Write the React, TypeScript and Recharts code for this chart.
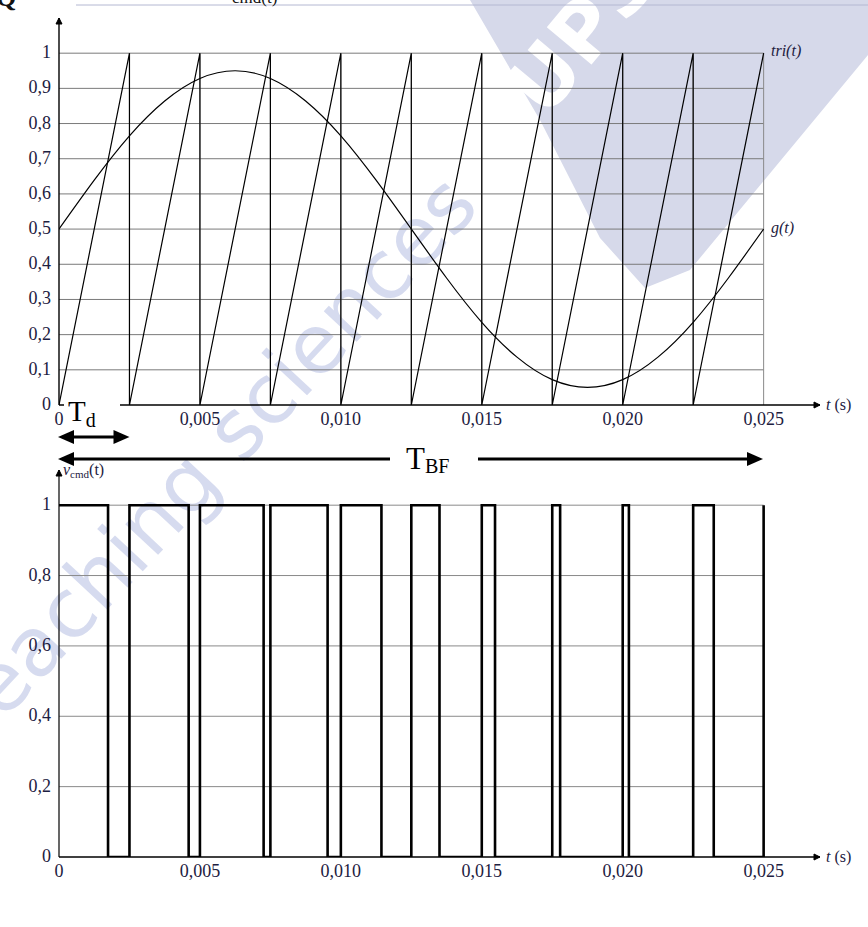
import { LineChart, Line, XAxis, YAxis, ReferenceLine, ReferenceDot } from "recharts"

// time axis, seconds
const xTicks = [0, 0.005, 0.01, 0.015, 0.02, 0.025]
const topYTicks = [0, 0.1, 0.2, 0.3, 0.4, 0.5, 0.6, 0.7, 0.8, 0.9, 1]
const bottomYTicks = [0, 0.2, 0.4, 0.6, 0.8, 1]

// sawtooth tri(t): ramps 0 -> 1 between these instants
const triEdges = [0, 0.0025, 0.005, 0.0075, 0.01, 0.0125, 0.015, 0.0175, 0.02, 0.0225, 0.025]

// g(t)
const gTimes = [
  0, 0.00125, 0.0025, 0.00375, 0.005, 0.00625, 0.0075, 0.00875, 0.01, 0.01125, 0.0125,
  0.01375, 0.015, 0.01625, 0.0175, 0.01875, 0.02, 0.02125, 0.0225, 0.02375, 0.025,
]
const gValues = [
  0.5, 0.639, 0.765, 0.864, 0.928, 0.95, 0.928, 0.864, 0.765, 0.639, 0.5,
  0.361, 0.235, 0.136, 0.072, 0.05, 0.072, 0.136, 0.235, 0.361, 0.5,
]

// v_cmd(t): falling / rising edges
const vcmdFalls = [0.00174, 0.0046, 0.00726, 0.00953, 0.01144, 0.0135, 0.01547, 0.01778, 0.02022, 0.02323]
const vcmdRises = [0.0025, 0.005, 0.0075, 0.01, 0.0125, 0.015, 0.0175, 0.02, 0.0225, 0.025]

const triData = [{ t: triEdges[0], v: 0 }]
triEdges.slice(1).forEach((t, i) => {
  triData.push({ t, v: 1 })
  if (i < triEdges.length - 2) triData.push({ t, v: 0 })
})
const gData = gTimes.map((t, i) => ({ t, v: gValues[i] }))
const vcmdData = [{ t: 0, v: 1 }]
vcmdFalls.forEach((f, i) => {
  vcmdData.push({ t: f, v: 1 }, { t: f, v: 0 }, { t: vcmdRises[i], v: 0 }, { t: vcmdRises[i], v: 1 })
})

const X0 = 59
const PX_PER_S = 28200
const px = (t: number) => X0 + t * PX_PER_S

const serif = "'Liberation Serif', 'DejaVu Serif', serif"
const labelColor = "#1d2040"
const textStyle = { fontFamily: serif, fontSize: 18, fill: labelColor }

const fmtX = (v: number) => (v === 0 ? "0" : v.toFixed(3).replace(".", ","))
const fmtY = (v: number) => (v === 0 || v === 1 ? String(v) : v.toFixed(1).replace(".", ","))

const XTick = ({ x, y, payload }: any) => (
  <text x={x} y={y + 12} textAnchor="middle" style={textStyle}>
    {fmtX(payload.value)}
  </text>
)
const YTick = ({ x, y, payload }: any) => (
  <text x={x} y={y + 5} textAnchor="end" style={textStyle}>
    {fmtY(payload.value)}
  </text>
)

const upArrow = (p: any) => (
  <path d={`M${p.cx - 3},${p.cy + 6} L${p.cx},${p.cy} L${p.cx + 3},${p.cy + 6} Z`} fill="#000" stroke="#000" />
)
const rightArrow = (p: any) => (
  <path d={`M${p.cx - 6},${p.cy - 3} L${p.cx},${p.cy} L${p.cx - 6},${p.cy + 3} Z`} fill="#000" stroke="#000" />
)

function Watermark() {
  return (
    <svg width={868} height={927} style={{ position: "absolute", left: 0, top: 0 }}>
      <polygon points="470,0 868,0 868,55 690,270 645,288 600,238 540,120" fill="#d6d9ea" />
      <text
        x={0}
        y={0}
        transform="translate(545,120) rotate(-50)"
        fontFamily="'DejaVu Sans', sans-serif"
        fontWeight={700}
        fontSize={80}
        fill="#ffffff"
      >
        UPS
      </text>
      <text
        x={0}
        y={0}
        transform="translate(-22,748) rotate(-47)"
        fontFamily="'DejaVu Sans', sans-serif"
        fontSize={82}
        fill="#cdd3ec"
        opacity={0.8}
      >
        Teaching sciences
      </text>
    </svg>
  )
}

function Overlay() {
  const headR = (x: number, y: number) => `M${x},${y} L${x - 16},${y - 7} L${x - 16},${y + 7} Z`
  const headL = (x: number, y: number) => `M${x},${y} L${x + 16},${y - 7} L${x + 16},${y + 7} Z`
  const tdY = 437
  const tbfY = 459
  const small = { fontFamily: serif, fontSize: 16, fill: labelColor }
  return (
    <svg width={868} height={927} style={{ position: "absolute", left: 0, top: 0, pointerEvents: "none" }}>
      <line x1={76} y1={5} x2={868} y2={5} stroke="#b4b8d2" strokeWidth={1} />
      <text x={-4} y={6} style={{ fontFamily: serif, fontSize: 26, fontWeight: 700, fill: "#111" }}>Q</text>
      <text x={232} y={3} style={{ fontFamily: serif, fontSize: 17, fill: "#111" }}>cmd(t)</text>

      <rect x={64} y={397} width={56} height={32} fill="#fff" />
      <text x={68} y={421} style={{ fontFamily: serif, fontSize: 29, fill: "#000" }}>
        T<tspan style={{ fontSize: 20 }} dy={6}>d</tspan>
      </text>
      <line x1={px(0) + 8} y1={tdY} x2={px(0.0025) - 8} y2={tdY} stroke="#000" strokeWidth={3} />
      <path d={headL(px(0) - 1, tdY)} fill="#000" />
      <path d={headR(px(0.0025), tdY)} fill="#000" />

      <line x1={px(0) + 8} y1={tbfY} x2={390} y2={tbfY} stroke="#000" strokeWidth={3} />
      <line x1={478} y1={tbfY} x2={px(0.025) - 8} y2={tbfY} stroke="#000" strokeWidth={3} />
      <path d={headL(px(0) - 1, tbfY)} fill="#000" />
      <path d={headR(px(0.025) - 1, tbfY)} fill="#000" />
      <text x={406} y={469} style={{ fontFamily: serif, fontSize: 31, fill: "#000" }}>
        T<tspan style={{ fontSize: 20 }} dy={4}>BF</tspan>
      </text>

      <text x={771} y={56} style={{ ...small, fontStyle: "italic" }}>tri(t)</text>
      <text x={771} y={233} style={{ ...small, fontStyle: "italic" }}>g(t)</text>
      <text x={826} y={410} style={small}>
        <tspan style={{ fontStyle: "italic" }}>t</tspan> (s)
      </text>
      <text x={826} y={862} style={small}>
        <tspan style={{ fontStyle: "italic" }}>t</tspan> (s)
      </text>
      <text x={63} y={475} style={small}>
        <tspan style={{ fontStyle: "italic" }}>v</tspan>
        <tspan style={{ fontSize: 11 }} dy={3}>cmd</tspan>
        <tspan dy={-3}>(t)</tspan>
      </text>
    </svg>
  )
}

function TopChart() {
  return (
    <LineChart width={868} height={440} margin={{ top: 18, right: 48, bottom: 5, left: 19 }}>
      <XAxis
        type="number"
        dataKey="t"
        domain={[0, 0.027]}
        ticks={xTicks}
        allowDataOverflow
        height={30}
        tickLine={false}
        axisLine={{ stroke: "#000", strokeWidth: 1.4 }}
        tick={XTick}
      />
      <YAxis
        type="number"
        domain={[0, 1.1]}
        ticks={topYTicks}
        allowDataOverflow
        width={40}
        tickLine={false}
        axisLine={{ stroke: "#000", strokeWidth: 1.4 }}
        tick={YTick}
      />
      {topYTicks.slice(1).map((y) => (
        <ReferenceLine key={"h" + y} segment={[{ x: 0, y }, { x: 0.025, y }]} stroke="#7a7a7a" strokeWidth={1} />
      ))}
      {triEdges.slice(1).map((x) => (
        <ReferenceLine key={"v" + x} segment={[{ x, y: 0 }, { x, y: 1 }]} stroke="#8a8a8a" strokeWidth={1} />
      ))}
      <ReferenceDot x={0} y={1.1} r={0} shape={upArrow} />
      <ReferenceDot x={0.027} y={0} r={0} shape={rightArrow} />
      <Line data={triData} dataKey="v" type="linear" stroke="#000" strokeWidth={1.2} dot={false} isAnimationActive={false} />
      <Line data={gData} dataKey="v" type="natural" stroke="#000" strokeWidth={1.2} dot={false} isAnimationActive={false} />
    </LineChart>
  )
}

function BottomChart() {
  return (
    <LineChart width={868} height={460} margin={{ top: 30, right: 48, bottom: 13, left: 19 }}>
      <XAxis
        type="number"
        dataKey="t"
        domain={[0, 0.027]}
        ticks={xTicks}
        allowDataOverflow
        height={30}
        tickLine={false}
        axisLine={{ stroke: "#000", strokeWidth: 1.4 }}
        tick={XTick}
      />
      <YAxis
        type="number"
        domain={[0, 1.1]}
        ticks={bottomYTicks}
        allowDataOverflow
        width={40}
        tickLine={false}
        axisLine={{ stroke: "#000", strokeWidth: 1.2 }}
        tick={YTick}
      />
      {bottomYTicks.slice(1).map((y) => (
        <ReferenceLine key={"h" + y} segment={[{ x: 0, y }, { x: 0.025, y }]} stroke="#8a8a8a" strokeWidth={1} />
      ))}
      <ReferenceDot x={0} y={1.1} r={0} shape={upArrow} />
      <ReferenceDot x={0.027} y={0} r={0} shape={rightArrow} />
      <Line data={vcmdData} dataKey="v" type="linear" stroke="#000" strokeWidth={2.6} dot={false} isAnimationActive={false} />
    </LineChart>
  )
}

export default function App() {
  return (
    <div style={{ position: "absolute", left: 0, top: 0, width: 868, height: 927, background: "#fff" }}>
      <Watermark />
      <div style={{ position: "absolute", left: 0, top: 0 }}>
        <TopChart />
      </div>
      <div style={{ position: "absolute", left: 0, top: 440 }}>
        <BottomChart />
      </div>
      <Overlay />
    </div>
  )
}
